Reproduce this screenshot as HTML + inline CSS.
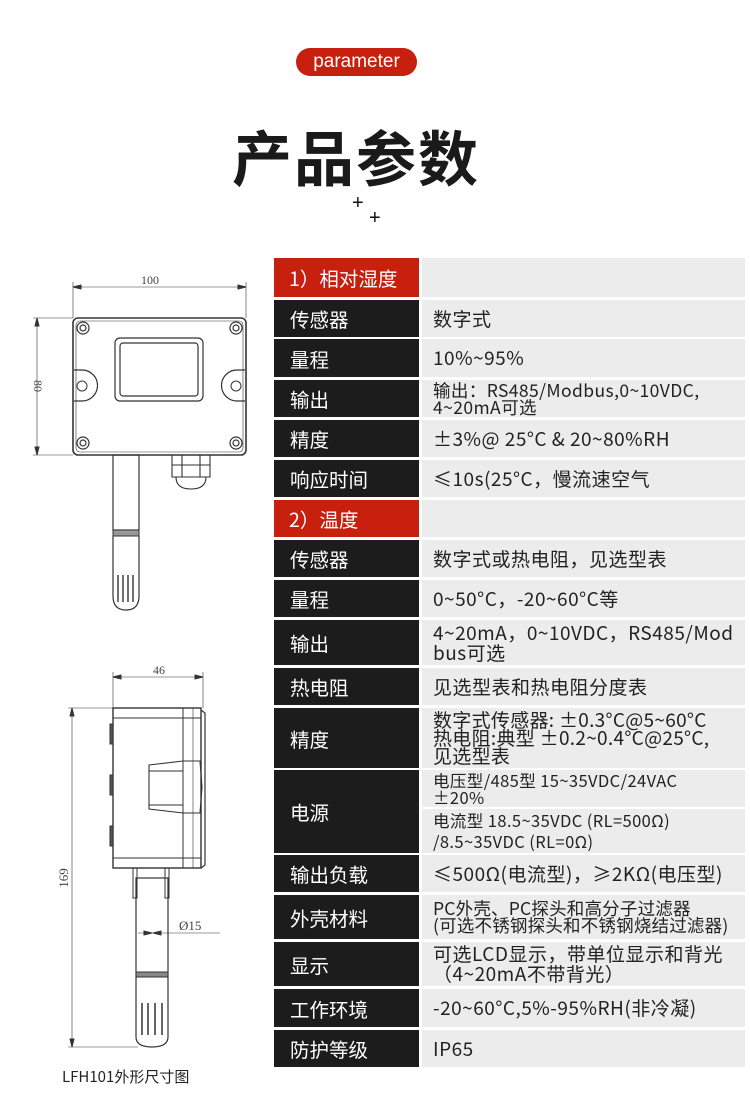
<!DOCTYPE html>
<html><head><meta charset="utf-8"><style>
*{margin:0;padding:0;box-sizing:border-box}
body{width:750px;height:1117px;background:#fff;position:relative;overflow:hidden;font-family:"Liberation Sans","Noto Sans CJK SC",sans-serif}
.pill{position:absolute;left:296px;top:48px;width:121px;height:28px;border-radius:14px;background:#c8200e;color:#fff;font-size:19px;text-align:center;line-height:27px}
.title{position:absolute;left:228px;top:116px;width:256px;text-align:center;font-size:60px;font-weight:bold;color:#1a1a1a;letter-spacing:2px;line-height:80px;font-family:"Noto Sans CJK SC",sans-serif}
.plus{position:absolute;font-size:20px;color:#111;line-height:20px}
.l,.r{position:absolute;display:flex;align-items:center;font-family:"Noto Sans CJK SC",sans-serif;white-space:nowrap;overflow:hidden}
.l{left:274px;width:145px;background:#1c1c1c;color:#fff;font-size:19.5px;padding-left:16px}
.l.red{background:#c8200e;padding-left:15px}
.r{left:422px;width:323px;background:#ececec;color:#222;font-size:19px;letter-spacing:0.5px;padding-left:11px;line-height:18px}
.r.s{font-size:17.5px;line-height:17px;letter-spacing:0.4px}
.cap{position:absolute;left:62px;top:1067px;font-size:15px;color:#222;font-family:"Noto Sans CJK SC",sans-serif;line-height:20px}
</style></head><body>
<div class="pill">parameter</div>
<div class="title">产品参数</div>
<div class="plus" style="left:352px;top:193px">+</div>
<div class="plus" style="left:369px;top:208px">+</div>

<svg style="position:absolute;left:0;top:0" width="270" height="1117" viewBox="0 0 270 1117" fill="none" stroke="#333" stroke-width="1">
<line x1="73" y1="282" x2="73" y2="318" stroke-width="0.6"/><line x1="246" y1="282" x2="246" y2="318" stroke-width="0.6"/>
<line x1="73" y1="287" x2="246" y2="287" stroke-width="0.6"/>
<path d="M73 287l8-2v4zM246 287l-8-2v4z" fill="#333"/>
<text x="150" y="284" font-family="Liberation Serif" font-size="12" fill="#444" stroke="none" text-anchor="middle">100</text>
<line x1="33" y1="318" x2="73" y2="318" stroke-width="0.6"/><line x1="33" y1="455" x2="73" y2="455" stroke-width="0.6"/>
<line x1="37" y1="318" x2="37" y2="455" stroke-width="0.6"/>
<path d="M37 318l-2 8h4zM37 455l-2-8h4z" fill="#333"/>
<text x="0" y="0" transform="translate(34,386) rotate(90)" font-family="Liberation Serif" font-size="12" fill="#444" stroke="none" text-anchor="middle">80</text>
<rect x="73" y="318" width="173" height="137" rx="5" stroke-width="1.6"/>
<rect x="76" y="321" width="167" height="131" rx="4" stroke-width="0.6"/>
<g stroke-width="1.2"><circle cx="83" cy="328" r="6"/><circle cx="236" cy="328" r="6"/><circle cx="83" cy="443" r="6"/><circle cx="236" cy="443" r="6"/>
<circle cx="83" cy="328" r="3"/><circle cx="236" cy="328" r="3"/><circle cx="83" cy="443" r="3"/><circle cx="236" cy="443" r="3"/></g>
<path d="M74 370h8a14 14 0 0 1 0 31h-8" stroke-width="1.2"/><circle cx="82" cy="386" r="5"/>
<path d="M245 370h-8a14 14 0 0 0 0 31h8" stroke-width="1.2"/><circle cx="236" cy="386" r="5"/>
<rect x="115" y="338" width="88" height="63" rx="5" stroke-width="1.2"/>
<rect x="120" y="343" width="78" height="53" rx="3" stroke-width="1.2"/>
<rect x="113" y="455" width="26" height="75" stroke-width="1.2"/>
<rect x="113" y="530" width="26" height="6" fill="#999"/>
<path d="M113 536v60q0 14 13 14q13 0 13-14v-60" stroke-width="1.2"/>
<g stroke-width="1.4"><line x1="118" y1="575" x2="118" y2="602"/><line x1="123" y1="575" x2="123" y2="602"/><line x1="128" y1="575" x2="128" y2="602"/><line x1="133" y1="575" x2="133" y2="602"/></g>
<path d="M172 455v22h38v-22M172 465h38M176 477q0 12 15 12q15 0 15-12M182 455v22M200 455v22" stroke-width="1.1"/>
<line x1="113" y1="672" x2="113" y2="708" stroke-width="0.6"/><line x1="203" y1="672" x2="203" y2="708" stroke-width="0.6"/>
<line x1="113" y1="677" x2="203" y2="677" stroke-width="0.6"/>
<path d="M113 677l8-2v4zM203 677l-8-2v4z" fill="#333"/>
<text x="159" y="674" font-family="Liberation Serif" font-size="12" fill="#444" stroke="none" text-anchor="middle">46</text>
<line x1="68" y1="708" x2="113" y2="708" stroke-width="0.6"/><line x1="68" y1="1047" x2="138" y2="1047" stroke-width="0.6"/>
<line x1="72" y1="708" x2="72" y2="1047" stroke-width="0.6"/>
<path d="M72 708l-2 8h4zM72 1047l-2-8h4z" fill="#333"/>
<text x="0" y="0" transform="translate(68,878) rotate(-90)" font-family="Liberation Serif" font-size="13" fill="#444" stroke="none" text-anchor="middle">169</text>
<rect x="113" y="708" width="88" height="160" stroke-width="1.4"/>
<line x1="113" y1="718" x2="201" y2="718"/><line x1="113" y1="858" x2="201" y2="858"/>
<line x1="183" y1="708" x2="183" y2="868"/><line x1="193" y1="708" x2="193" y2="868" stroke-width="0.6"/>
<path d="M201 710l4 3v152l-4 3" stroke-width="1.2"/>
<rect x="110" y="724" width="3" height="20" fill="#555"/><rect x="110" y="775" width="3" height="20" fill="#555"/><rect x="110" y="826" width="3" height="20" fill="#555"/>
<path d="M149 765l34-4h17l2 26-2 26h-17l-34-4z" stroke-width="1.1"/>
<line x1="149" y1="771" x2="183" y2="771"/><line x1="149" y1="805" x2="183" y2="805"/>
<line x1="183" y1="761" x2="183" y2="813"/>
<path d="M133 868v30h4v-30M165 868v30h4v-30" stroke-width="1"/>
<rect x="136" y="878" width="32" height="97" stroke-width="1.2"/>
<rect x="136" y="972" width="32" height="5" fill="#888"/>
<path d="M136 977v60q0 10 16 10q16 0 16-10v-60" stroke-width="1.2"/>
<g stroke-width="1.5"><line x1="142" y1="1003" x2="142" y2="1035"/><line x1="148" y1="1003" x2="148" y2="1035"/><line x1="155" y1="1003" x2="155" y2="1035"/><line x1="162" y1="1003" x2="162" y2="1035"/></g>
<line x1="138" y1="933" x2="220" y2="933" stroke-width="0.6"/>
<path d="M152 933l-8-2v4zM153 933l8-2v4z" fill="#333"/>
<text x="179" y="930" font-family="Liberation Serif" font-size="13" fill="#444" stroke="none">Ø15</text>
</svg>
<div class="cap">LFH101外形尺寸图</div>

<div class="l red" style="top:258px;height:39px">1）相对湿度</div><div class="r" style="top:258px;height:39px"></div>
<div class="l" style="top:300px;height:37px">传感器</div><div class="r" style="top:300px;height:37px">数字式</div>
<div class="l" style="top:339px;height:38px">量程</div><div class="r" style="top:339px;height:38px">10%~95%</div>
<div class="l" style="top:380px;height:37px">输出</div><div class="r s" style="top:380px;height:37px">输出：RS485/Modbus,0~10VDC,<br>4~20mA可选</div>
<div class="l" style="top:420px;height:37px">精度</div><div class="r" style="top:420px;height:37px">±3%@ 25°C &amp; 20~80%RH</div>
<div class="l" style="top:460px;height:37px">响应时间</div><div class="r" style="top:460px;height:37px">≤10s(25°C，慢流速空气</div>
<div class="l red" style="top:500px;height:37px">2）温度</div><div class="r" style="top:500px;height:37px"></div>
<div class="l" style="top:540px;height:37px">传感器</div><div class="r" style="top:540px;height:37px">数字式或热电阻，见选型表</div>
<div class="l" style="top:580px;height:37px">量程</div><div class="r" style="top:580px;height:37px">0~50°C，-20~60°C等</div>
<div class="l" style="top:620px;height:45px">输出</div><div class="r" style="top:620px;height:45px;line-height:20px">4~20mA，0~10VDC，RS485/Mod<br>bus可选</div>
<div class="l" style="top:668px;height:37px">热电阻</div><div class="r" style="top:668px;height:37px">见选型表和热电阻分度表</div>
<div class="l" style="top:708px;height:60px">精度</div><div class="r" style="top:708px;height:60px;letter-spacing:0.3px">数字式传感器: ±0.3°C@5~60°C<br>热电阻:典型 ±0.2~0.4°C@25°C,<br>见选型表</div>
<div class="l" style="top:770px;height:83px">电源</div>
<div class="r s" style="top:770px;height:37px;font-size:16.5px">电压型/485型 15~35VDC/24VAC<br>±20%</div>
<div class="r s" style="top:809px;height:44px;line-height:21px;font-size:16.5px">电流型 18.5~35VDC (RL=500Ω)<br>/8.5~35VDC (RL=0Ω)</div>
<div class="l" style="top:855px;height:37px">输出负载</div><div class="r" style="top:855px;height:37px">≤500Ω(电流型)，≥2KΩ(电压型)</div>
<div class="l" style="top:895px;height:44px">外壳材料</div><div class="r s" style="top:895px;height:44px;letter-spacing:0.2px">PC外壳、PC探头和高分子过滤器<br>(可选不锈钢探头和不锈钢烧结过滤器)</div>
<div class="l" style="top:942px;height:44px">显示</div><div class="r" style="top:942px;height:44px;line-height:20px">可选LCD显示，带单位显示和背光<br>（4~20mA不带背光）</div>
<div class="l" style="top:989px;height:38px">工作环境</div><div class="r" style="top:989px;height:38px">-20~60°C,5%-95%RH(非冷凝)</div>
<div class="l" style="top:1030px;height:37px">防护等级</div><div class="r" style="top:1030px;height:37px">IP65</div>
</body></html>
